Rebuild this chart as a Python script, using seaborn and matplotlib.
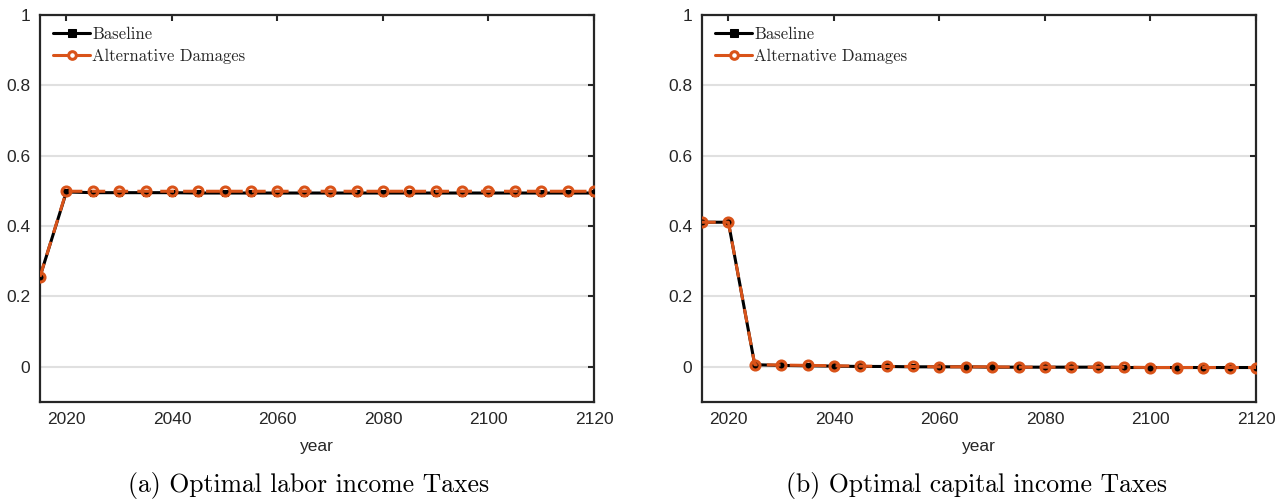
import numpy as np
import pandas as pd
import matplotlib
matplotlib.use("Agg")
import matplotlib.pyplot as plt
import seaborn as sns

years = list(range(2015, 2121, 5))

labor_baseline = [0.256, 0.497, 0.495, 0.495, 0.495, 0.495, 0.494, 0.494, 0.494, 0.494,
                  0.494, 0.494, 0.494, 0.494, 0.494, 0.494, 0.494, 0.494, 0.494, 0.494,
                  0.494, 0.494]
labor_alt = [0.256, 0.499, 0.499, 0.499, 0.499, 0.499, 0.499, 0.499, 0.499, 0.499,
             0.499, 0.499, 0.499, 0.499, 0.499, 0.499, 0.499, 0.499, 0.499, 0.499,
             0.499, 0.499]

capital_baseline = [0.411, 0.411, 0.006, 0.004, 0.003, 0.002, 0.001, 0.001, 0.000, 0.000,
                    0.000, -0.001, -0.001, -0.001, -0.001, -0.001, -0.002, -0.002, -0.002,
                    -0.002, -0.002, -0.002]
capital_alt = [0.411, 0.411, 0.006, 0.005, 0.004, 0.003, 0.002, 0.001, 0.001, 0.000,
               0.000, 0.000, -0.001, -0.001, -0.001, -0.001, -0.001, -0.002, -0.002,
               -0.002, -0.002, -0.002]

series_names = ["Baseline", "Alternative Damages"]
captions = ["(a) Optimal labor income Taxes", "(b) Optimal capital income Taxes"]
x_ticks = [2020, 2040, 2060, 2080, 2100, 2120]
y_ticks = [0, 0.2, 0.4, 0.6, 0.8, 1]
y_tick_labels = ["0", "0.2", "0.4", "0.6", "0.8", "1"]

sns.set_theme(style="white")
plt.rcParams["font.family"] = ["Liberation Sans", "DejaVu Sans"]

ORANGE = "#D95319"
SPINE = "#262626"

fig = plt.figure(figsize=(12.77, 5.03), dpi=100)
ax_l = fig.add_axes([40 / 1277, 1 - 402 / 503, 554 / 1277, 387 / 503])
ax_r = fig.add_axes([702 / 1277, 1 - 402 / 503, 554 / 1277, 387 / 503])

panels = [(ax_l, labor_baseline, labor_alt, captions[0], 0.485),
          (ax_r, capital_baseline, capital_alt, captions[1], 0.495)]

for ax, base, alt, cap, cap_x in panels:
    df = pd.DataFrame({"year": years, "base": base, "alt": alt})
    sns.lineplot(data=df, x="year", y="base", ax=ax, color="black", lw=2.2,
                 marker="s", markersize=4, markeredgecolor="black",
                 markerfacecolor="black", label=series_names[0], zorder=3)
    sns.lineplot(data=df, x="year", y="alt", ax=ax, color=ORANGE, lw=2.2,
                 linestyle=(0, (4.5, 3)), marker="o", markersize=6.5,
                 markerfacecolor="none", markeredgecolor=ORANGE,
                 markeredgewidth=2.2, label=series_names[1], zorder=4)

    ax.set_xlim(2015, 2120)
    ax.set_ylim(-0.1, 1)
    ax.set_xticks(x_ticks)
    ax.set_yticks(y_ticks)
    ax.set_yticklabels(y_tick_labels)
    ax.yaxis.grid(True, color="#e0e0e0", lw=1.5)
    ax.xaxis.grid(False)
    ax.set_axisbelow(True)
    ax.set_xlabel("year", fontsize=12.5, color="#262626", labelpad=9)
    ax.set_ylabel("")
    ax.tick_params(axis="both", direction="in", length=4, width=1.5, color=SPINE,
                   labelsize=12.5, labelcolor="#262626", top=True, right=True,
                   pad=7)
    for s in ax.spines.values():
        s.set_color(SPINE)
        s.set_linewidth(1.6)

    leg = ax.legend(loc="upper left", frameon=False, prop={"family": "cmr10", "size": 12},
                    handlelength=2.2, handletextpad=0.15, labelspacing=0.42,
                    borderaxespad=0.0, bbox_to_anchor=(0.012, 0.988))
    for h in leg.legend_handles:
        h.set_linestyle("-")
    leg.legend_handles[1].set_markerfacecolor("white")
    leg.legend_handles[1].set_markersize(5.5)
    leg.legend_handles[0].set_markersize(5.5)

    ax.text(cap_x, -0.215, cap, transform=ax.transAxes, ha="center", va="center",
            fontsize=18.5, family="cmr10", color="black")

fig.savefig("out.png", dpi=100)
